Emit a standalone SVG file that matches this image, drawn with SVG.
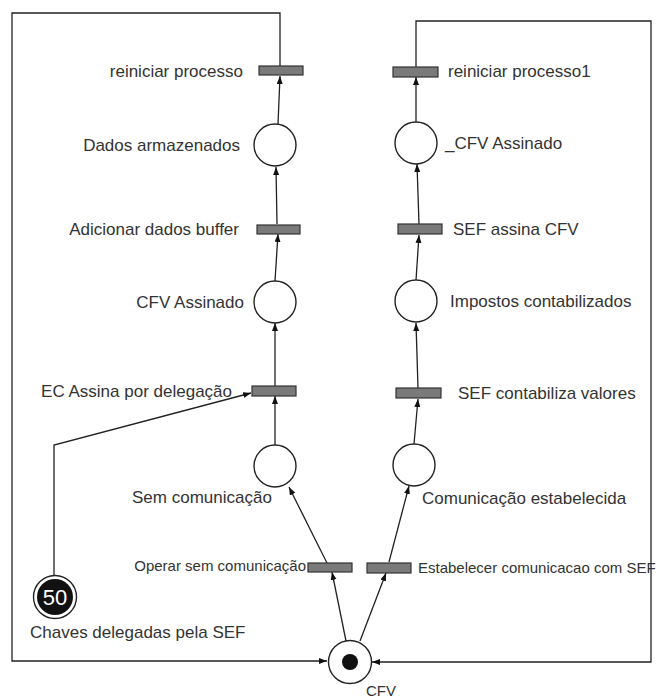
<svg xmlns="http://www.w3.org/2000/svg" width="656" height="700" viewBox="0 0 656 700">
<defs>
<marker id="arr" markerWidth="9" markerHeight="7" refX="8" refY="3" orient="auto" markerUnits="userSpaceOnUse">
<path d="M0,0 L8,3 L0,6 z" fill="#111"/>
</marker>
<style>
.l{font-family:"Liberation Sans",Arial,sans-serif;font-size:17px;fill:#333}
.s{font-family:"Liberation Sans",Arial,sans-serif;font-size:15px;fill:#333}
.p{fill:#fff;stroke:#222;stroke-width:1.4}
.t{fill:#7a7a7a;stroke:#333;stroke-width:1.2}
.c{fill:none;stroke:#222;stroke-width:1.3}
.a{fill:none;stroke:#222;stroke-width:1.3;marker-end:url(#arr)}
</style>
</defs>
<rect width="656" height="700" fill="#fff"/>
<g id="connectors">
<polyline class="a" points="280,66 280,13 12,13 12,661 327,661"/>
<polyline class="a" points="416,67 416,21 651,21 651,662 372,662"/>
<line class="a" x1="278" y1="124" x2="280" y2="76"/>
<line class="a" x1="277" y1="224" x2="276" y2="167"/>
<line class="a" x1="275" y1="281" x2="278" y2="234"/>
<line class="a" x1="275" y1="386" x2="275" y2="323"/>
<line class="a" x1="275" y1="445" x2="275" y2="396"/>
<polyline class="a" points="54,576 54,445 251,393"/>
<line class="a" x1="346" y1="641" x2="332" y2="572"/>
<line class="a" x1="327" y1="563" x2="289" y2="487"/>
<line class="a" x1="360" y1="641" x2="386" y2="573"/>
<line class="a" x1="389" y1="562" x2="409" y2="486"/>
<line class="a" x1="414" y1="444" x2="418" y2="399"/>
<line class="a" x1="418" y1="388" x2="416" y2="323"/>
<line class="a" x1="416" y1="280" x2="419" y2="235"/>
<line class="a" x1="419" y1="224" x2="417" y2="164"/>
<line class="a" x1="416" y1="122" x2="416" y2="77"/>
</g>
<g id="t-reiniciar"><rect class="t" x="259" y="66" width="44" height="9"/><text class="l" x="243" y="77" text-anchor="end">reiniciar processo</text></g>
<g id="p-dados"><circle class="p" cx="275" cy="145" r="21"/><text class="l" x="240" y="151" text-anchor="end">Dados armazenados</text></g>
<g id="t-adicionar"><rect class="t" x="257" y="225" width="43" height="9"/><text class="l" x="239" y="235" text-anchor="end">Adicionar dados buffer</text></g>
<g id="p-cfvassinado"><circle class="p" cx="275" cy="302" r="21"/><text class="l" x="244" y="308" text-anchor="end">CFV Assinado</text></g>
<g id="t-ec"><rect class="t" x="252" y="386" width="44" height="10"/><text class="l" x="232" y="397" text-anchor="end">EC Assina por delegação</text></g>
<g id="p-sem"><circle class="p" cx="275" cy="466" r="21"/><text class="l" x="132" y="503">Sem comunicação</text></g>
<g id="t-operar"><rect class="t" x="308" y="563" width="44" height="9"/><text class="s" x="306" y="571" text-anchor="end">Operar sem comunicação</text></g>
<g id="p-chaves"><circle class="p" cx="55" cy="597" r="21.5"/><circle cx="55" cy="597" r="18" fill="#111"/><text x="55" y="605" text-anchor="middle" style="font-family:'Liberation Sans',Arial,sans-serif;font-size:22px;fill:#fff">50</text><text class="l" x="30" y="638">Chaves delegadas pela SEF</text></g>
<g id="p-cfv"><circle class="p" cx="350" cy="662" r="21.5"/><circle cx="350" cy="662" r="8" fill="#111"/><text class="l" x="366" y="696" style="font-size:15px">CFV</text></g>
<g id="t-reiniciar1"><rect class="t" x="393" y="67" width="45" height="10"/><text class="l" x="448" y="77">reiniciar processo1</text></g>
<g id="p-cfv2"><circle class="p" cx="416" cy="143" r="21"/><text class="l" x="445" y="149">_CFV Assinado</text></g>
<g id="t-sefassina"><rect class="t" x="398" y="224" width="44" height="10"/><text class="l" x="453" y="235">SEF assina CFV</text></g>
<g id="p-impostos"><circle class="p" cx="416" cy="301" r="21"/><text class="l" x="450" y="307">Impostos contabilizados</text></g>
<g id="t-sefcont"><rect class="t" x="396" y="388" width="45" height="10"/><text class="l" x="458" y="399">SEF contabiliza valores</text></g>
<g id="p-com"><circle class="p" cx="414" cy="465" r="21"/><text class="l" x="422" y="504">Comunicação estabelecida</text></g>
<g id="t-estab"><rect class="t" x="367" y="563" width="44" height="10"/><text class="s" x="418" y="573">Estabelecer comunicacao com SEF</text></g>
</svg>
